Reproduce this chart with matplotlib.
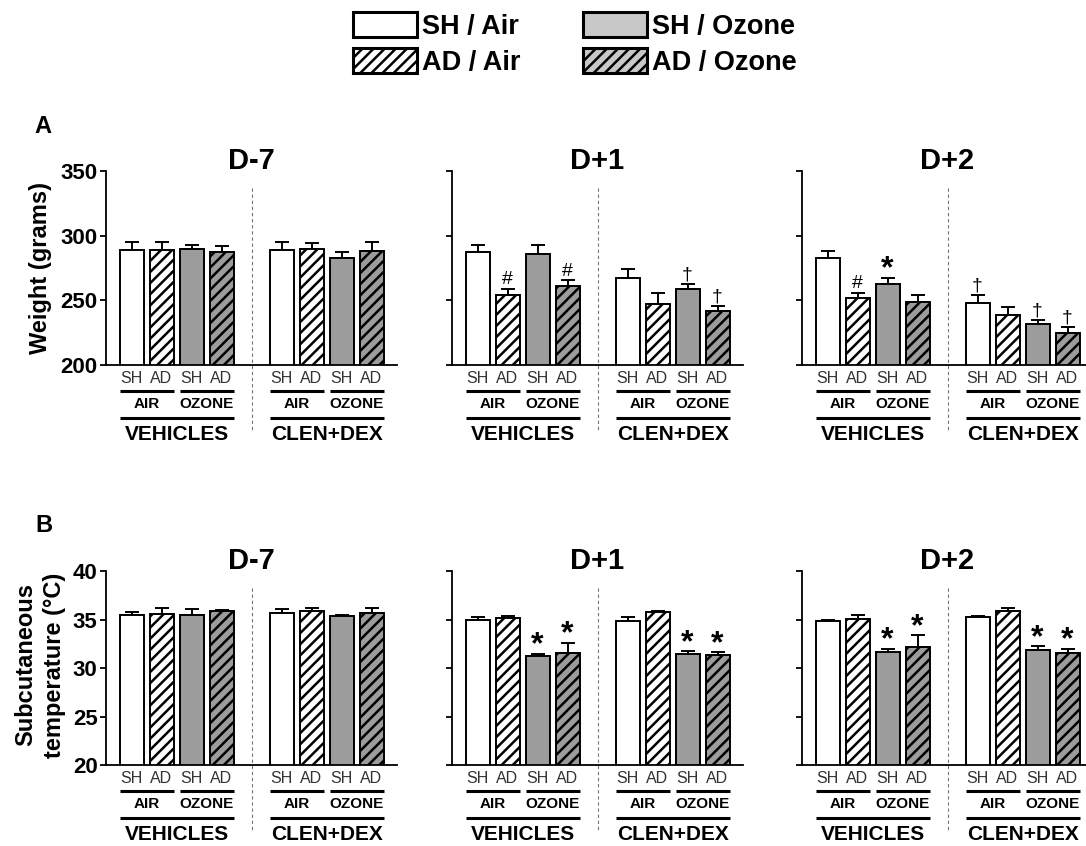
import matplotlib
matplotlib.use('Agg')
from matplotlib import pyplot as plt
from matplotlib.patches import Patch

plt.rcParams['font.family'] = ['Liberation Sans', 'DejaVu Sans']
plt.rcParams['hatch.linewidth'] = 1.8

# DATA
groups = ['SH', 'AD', 'SH', 'AD', 'SH', 'AD', 'SH', 'AD']
exposures = ['AIR', 'OZONE']
treatments = ['VEHICLES', 'CLEN+DEX']
days = ['D-7', 'D+1', 'D+2']
legend_labels = ['SH / Air', 'AD / Air', 'SH / Ozone', 'AD / Ozone']

weight_dm7 = [289, 289, 290, 287, 289, 289.5, 282.5, 288.5]
weight_dm7_sem = [6, 6, 3, 5, 6, 5, 5, 6.5]
weight_dm7_sig = ['', '', '', '', '', '', '', '']
weight_d1 = [287.5, 254.5, 285.5, 261, 267.5, 247.5, 258.5, 241.5]
weight_d1_sem = [5, 4.5, 7, 4.5, 7, 8, 4, 4]
weight_d1_sig = ['', '#', '', '#', '', '', '†', '†']
weight_d2 = [282.5, 252, 263, 248.5, 248, 238.5, 231.5, 225]
weight_d2_sem = [5.5, 4, 4.5, 6, 6, 6.5, 3.5, 4.5]
weight_d2_sig = ['', '#', '*', '', '†', '', '†', '†']

temp_dm7 = [35.45, 35.6, 35.5, 35.85, 35.7, 35.85, 35.35, 35.7]
temp_dm7_sem = [0.3, 0.55, 0.6, 0.15, 0.4, 0.3, 0.15, 0.5]
temp_dm7_sig = ['', '', '', '', '', '', '', '']
temp_d1 = [34.95, 35.2, 31.2, 31.55, 34.8, 35.75, 31.45, 31.3]
temp_d1_sem = [0.35, 0.15, 0.25, 1.05, 0.45, 0.1, 0.3, 0.35]
temp_d1_sig = ['', '', '*', '*', '', '', '*', '*']
temp_d2 = [34.8, 35.05, 31.6, 32.15, 35.25, 35.85, 31.85, 31.5]
temp_d2_sem = [0.15, 0.4, 0.4, 1.25, 0.15, 0.35, 0.4, 0.5]
temp_d2_sig = ['', '', '*', '*', '', '', '*', '*']

weight_rows = [(weight_dm7, weight_dm7_sem, weight_dm7_sig),
               (weight_d1, weight_d1_sem, weight_d1_sig),
               (weight_d2, weight_d2_sem, weight_d2_sig)]
temp_rows = [(temp_dm7, temp_dm7_sem, temp_dm7_sig),
             (temp_d1, temp_d1_sem, temp_d1_sig),
             (temp_d2, temp_d2_sem, temp_d2_sig)]

# STYLES
GRAY = '#9c9c9c'
faces = ['white', 'white', GRAY, GRAY] * 2
hatches = ['', '///', '', '///'] * 2
x_pos = [0, 1, 2, 3, 5, 6, 7, 8]

W, H = 1086, 846
fig = plt.figure(figsize=(W / 100, H / 100), dpi=100)

col_left = [106, 452, 802]
col_width = 291
row_base = [365, 765]
row_height = 194


def draw_panel(ax, values, sem, sig, ylim, yticks, title, show_labels):
    ax.bar(x_pos, values, width=0.8, color=faces, edgecolor='black',
           linewidth=1.4, hatch=hatches, zorder=2)
    ax.errorbar(x_pos, values, yerr=[[0] * len(sem), sem], fmt='none',
                ecolor='black', elinewidth=1.4, capsize=5, capthick=1.4, zorder=1)
    span = ylim[1] - ylim[0]
    for x, v, e, s in zip(x_pos, values, sem, sig):
        if not s:
            continue
        if s == '*':
            ax.text(x, v + e - 0.035 * span, s, ha='center', va='bottom',
                    fontsize=23, fontweight='bold')
        else:
            ax.text(x, v + e + 0.003 * span, s, ha='center', va='bottom',
                    fontsize=14)

    ax.set_xlim(-0.85, 8.85)
    ax.set_ylim(*ylim)
    ax.set_yticks(yticks)
    ax.set_xticks([])
    for side in ['top', 'right']:
        ax.spines[side].set_visible(False)
    for side in ['left', 'bottom']:
        ax.spines[side].set_linewidth(1.3)
    ax.tick_params(axis='y', direction='out', length=4, width=1.3,
                   labelsize=16, labelleft=show_labels, pad=2)
    for lbl in ax.get_yticklabels():
        lbl.set_fontweight('bold')

    tr = ax.get_xaxis_transform()
    px = 1.0 / row_height
    ax.text(4, 1 + 2 * px, title, transform=tr, ha='center', va='baseline',
            fontsize=21, fontweight='bold')
    # dashed divider between treatments
    ax.plot([4, 4], [0.913, -66 * px], transform=tr, clip_on=False,
            ls=(0, (3, 2.5)), color='#777777', lw=0.8)
    # group labels under the axis
    for x, g in zip(x_pos, groups):
        ax.text(x, -13 * px, g, transform=tr, ha='center', va='center',
                fontsize=11.5, color='#333333')
    for k, start in enumerate([0, 5]):
        for j, ex in enumerate(exposures):
            a = start + 2 * j
            ax.plot([a - 0.4, a + 1.4], [-26 * px] * 2, transform=tr,
                    clip_on=False, color='black', lw=2.2, solid_capstyle='butt')
            ax.text(a + 0.5, -39 * px, ex, transform=tr, ha='center',
                    va='center', fontsize=11, fontweight='bold')
        ax.plot([start - 0.4, start + 3.4], [-53 * px] * 2, transform=tr,
                clip_on=False, color='black', lw=2.2, solid_capstyle='butt')
        ax.text(start + 1.5, -69 * px, treatments[k], transform=tr,
                ha='center', va='center', fontsize=15, fontweight='bold')


for r, (rows, ylim, yticks) in enumerate([
        (weight_rows, (200, 350), [200, 250, 300, 350]),
        (temp_rows, (20, 40), [20, 25, 30, 35, 40])]):
    for c in range(3):
        ax = fig.add_axes([col_left[c] / W, 1 - row_base[r] / H,
                           col_width / W, row_height / H])
        vals, sem, sig = rows[c]
        draw_panel(ax, vals, sem, sig, ylim, yticks, days[c], c == 0)

# Y LABELS
fig.text(41 / W, 1 - 268 / H, 'Weight (grams)', rotation=90, ha='center',
         va='center', fontsize=17, fontweight='bold')
fig.text(40 / W, 1 - 665 / H, 'Subcutaneous\ntemperature (°C)', rotation=90,
         ha='center', va='center', fontsize=17, fontweight='bold',
         linespacing=1.35, multialignment='center')

# PANEL LETTERS
fig.text(34 / W, 1 - 133 / H, 'A', fontsize=17, fontweight='bold', va='baseline')
fig.text(35 / W, 1 - 532 / H, 'B', fontsize=17, fontweight='bold', va='baseline')

# LEGEND
leg_faces = ['white', 'white', '#c8c8c8', '#c8c8c8']
handles = [Patch(facecolor=f, edgecolor='black', hatch=h, linewidth=2.2)
           for f, h in zip(leg_faces, hatches[:4])]
fig.legend(handles, legend_labels, ncol=2, loc='upper left',
           bbox_to_anchor=(353 / W, 1 - 12 / H), frameon=False,
           prop={'size': 19.5, 'weight': 'bold'}, handlelength=2.35,
           handleheight=1.05, handletextpad=0.2, labelspacing=0.3,
           columnspacing=2.3, borderpad=0, borderaxespad=0)

plt.savefig('out.png', dpi=100)
